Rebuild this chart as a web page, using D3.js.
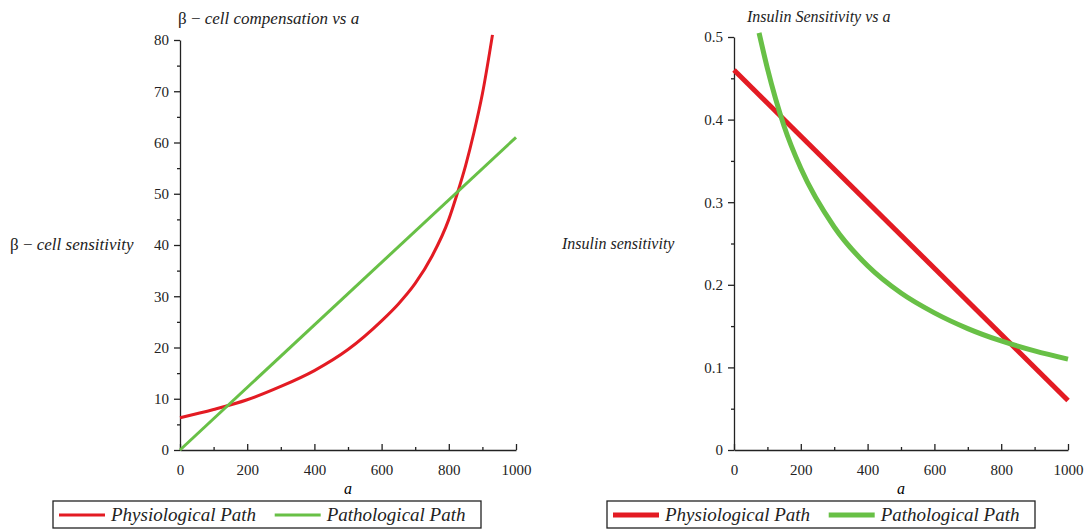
<!DOCTYPE html>
<html>
<head>
<meta charset="utf-8">
<script src="https://cdn.jsdelivr.net/npm/d3@7"></script>
<style>
  body { margin: 0; background: #fff; }
  svg text { font-family: "Liberation Serif", "Times New Roman", serif !important; }
  .tick text { font-size: 15px; fill: #222; }
  .domain, .tick line { stroke: #222; stroke-width: 1.3; }
</style>
</head>
<body>
<div id="chart"></div>
<script>
// ---- data ----
var seriesNames = ["Physiological Path", "Pathological Path"];
var colors = ["#e31b23", "#68c046"];

// left panel: beta-cell compensation
var betaPhysA = [0, 100, 200, 300, 400, 500, 600, 650, 700, 750, 800, 825, 850, 875, 900, 930];
var betaPhysV = [6.3, 7.9, 9.8, 12.4, 15.5, 19.6, 25.2, 28.5, 32.5, 37.8, 45, 50, 55.5, 62, 69.5, 81];
var betaPathA = [0, 1000];
var betaPathV = [0, 61];

// right panel: insulin sensitivity
var insPhysA = [0, 1000];
var insPhysV = [0.46, 0.06];
var insPathA = [75, 100, 150, 200, 300, 400, 500, 600, 700, 800, 900, 1000];
var insPathV = [0.505, 0.462, 0.392, 0.341, 0.270, 0.223, 0.190, 0.166, 0.147, 0.132, 0.120, 0.110];

var xTicks = [0, 200, 400, 600, 800, 1000];
var betaTicks = [0, 10, 20, 30, 40, 50, 60, 70, 80];
var insTicks = [0, 0.1, 0.2, 0.3, 0.4, 0.5];

var svg = d3.select("#chart").append("svg")
    .attr("width", 1091)
    .attr("height", 531);

function zip(a, v) { return a.map(function(d, i) { return [d, v[i]]; }); }

function serif(s) {
  s.attr("font-family", null);
  s.selectAll("text").style("font-family", "'Liberation Serif', 'Times New Roman', serif");
}

function panel(opt) {
  var x = d3.scaleLinear().domain([0, 1000]).range([opt.x0, opt.x1]);
  var y = d3.scaleLinear().domain(opt.yDomain).range([450, opt.yTop]);
  var g = svg.append("g");

  // minor ticks
  var xMinor = d3.range(100, 1000, 200);
  g.append("g")
      .attr("transform", "translate(0,450)")
      .call(d3.axisBottom(x).tickValues(xMinor).tickSize(-3).tickFormat(""))
      .call(function(s) { s.select(".domain").remove(); });
  g.append("g")
      .attr("transform", "translate(" + opt.x0 + ",0)")
      .call(d3.axisLeft(y).tickValues(opt.yMinor).tickSize(3).tickFormat(""))
      .call(function(s) { s.select(".domain").remove(); });

  // major axes
  g.append("g")
      .attr("transform", "translate(0,450)")
      .call(d3.axisBottom(x).tickValues(xTicks).tickSize(-6).tickSizeOuter(0).tickPadding(14)
        .tickFormat(d3.format("d")))
      .call(serif);
  g.append("g")
      .attr("transform", "translate(" + opt.x0 + ",0)")
      .call(d3.axisLeft(y).tickValues(opt.yTicks).tickSize(6).tickSizeOuter(0).tickPadding(5)
        .tickFormat(opt.fmt))
      .call(serif);

  var line = d3.line()
      .x(function(d) { return x(d[0]); })
      .y(function(d) { return y(d[1]); })
      .curve(d3.curveMonotoneX);

  opt.series.forEach(function(s, i) {
    g.append("path")
        .datum(s)
        .attr("fill", "none")
        .attr("stroke", colors[i])
        .attr("stroke-width", opt.lw)
        .attr("d", line);
  });

  // x label
  g.append("text")
      .attr("x", (opt.x0 + opt.x1) / 2)
      .attr("y", 494)
      .attr("text-anchor", "middle")
      .attr("font-style", "italic")
      .attr("font-size", 16)
      .text("a");

  // legend
  var lg = g.append("g");
  lg.append("rect")
      .attr("x", opt.legX).attr("y", 501)
      .attr("width", opt.legW).attr("height", 27)
      .attr("fill", "#fff").attr("stroke", "#222").attr("stroke-width", 1.3);
  var off = [opt.legX + 6, opt.legX + opt.legW * 0.518];
  seriesNames.forEach(function(n, i) {
    lg.append("line")
        .attr("x1", off[i]).attr("x2", off[i] + 46)
        .attr("y1", 515).attr("y2", 515)
        .attr("stroke", colors[i]).attr("stroke-width", opt.lw);
    lg.append("text")
        .attr("x", off[i] + 52).attr("y", 521)
        .attr("font-style", "italic")
        .attr("font-size", 19)
        .attr("fill", "#222")
        .text(n);
  });
  return g;
}

var left = panel({
  x0: 180, x1: 516, yTop: 40, yDomain: [0, 80],
  yTicks: betaTicks, yMinor: d3.range(5, 80, 10),
  fmt: d3.format("d"), lw: 3,
  series: [zip(betaPhysA, betaPhysV), zip(betaPathA, betaPathV)],
  legX: 53, legW: 428
});

var right = panel({
  x0: 734, x1: 1068, yTop: 37, yDomain: [0, 0.5],
  yTicks: insTicks, yMinor: [0.05, 0.15, 0.25, 0.35, 0.45],
  fmt: function(d) { return d === 0 ? "0" : d3.format(".1f")(d); }, lw: 5,
  series: [zip(insPhysA, insPhysV), zip(insPathA, insPathV)],
  legX: 607, legW: 428
});

// titles and y labels
function label(x, y, parts, size) {
  var t = svg.append("text").attr("x", x).attr("y", y)
      .attr("font-size", size).attr("fill", "#222");
  parts.forEach(function(p) {
    t.append("tspan").attr("font-style", p[1] ? "italic" : "normal").text(p[0]);
  });
}
label(178, 24, [["β − ", false], ["cell compensation vs a", true]], 17);
label(10, 250, [["β − ", false], ["cell sensitivity", true]], 17);
label(747, 22, [["Insulin Sensitivity vs a", true]], 16);
label(562, 249, [["Insulin sensitivity", true]], 16);
</script>
</body>
</html>
